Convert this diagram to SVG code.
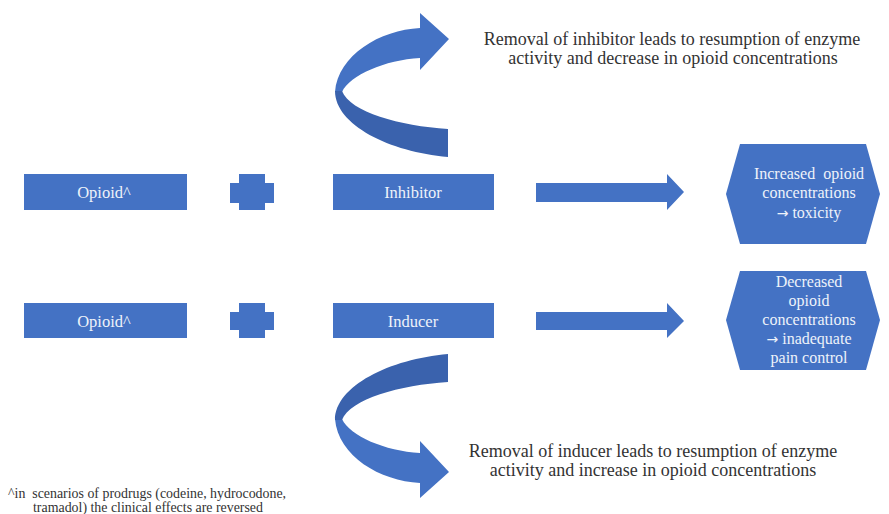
<svg xmlns="http://www.w3.org/2000/svg" width="889" height="514" viewBox="0 0 889 514">
<defs>
<style>
.blue{fill:#4472C4}
.dark{fill:#3a62ad}
text{font-family:'Liberation Serif','DejaVu Serif',serif;white-space:pre}
.lbl{fill:#eef2fa;text-anchor:middle}
.box{font-size:16.5px}
.hex{font-size:16px}
.arr{font-family:'DejaVu Sans',sans-serif;font-size:14px}
.note{fill:#333;text-anchor:middle;font-size:18px}
.foot{fill:#333;font-size:13.9px}
</style>
<g id="curl">
<path class="blue" d="M420 28 C380 30 338 55 335 92 L342 92 C350 75 385 60 420 58 L420 70 L449 39 L420 13 Z"/>
<path class="dark" d="M335 91 C335 125 390 152 448 157 L448 129 C400 126 350 112 342 91 Z"/>
</g>
</defs>
<rect width="889" height="514" fill="#fff"/>

<g id="connectors">
<use href="#curl" id="curl-top"/>
<use href="#curl" id="curl-bottom" transform="translate(0,511) scale(1,-1)"/>
<polygon id="arrow-top" class="blue" points="536,183 667,183 667,174 684,192 667,210 667,202 536,202"/>
<polygon id="arrow-bottom" class="blue" points="536,312 667,312 667,303 684,321 667,338 667,330 536,330"/>
</g>

<g id="opioid1">
<rect class="blue" x="24" y="174" width="163" height="36"/>
<text class="lbl box" x="104" y="198">Opioid^</text>
</g>
<g id="plus1">
<polygon class="blue" points="239,174 265,174 265,183 274,183 274,203 265,203 265,210 239,210 239,203 230,203 230,183 239,183"/>
</g>
<g id="inhibitor">
<rect class="blue" x="333" y="174" width="161" height="36"/>
<text class="lbl box" x="413" y="198">Inhibitor</text>
</g>
<g id="result1">
<polygon class="blue" points="740,144 866,144 880,194 866,244 740,244 726,194"/>
<text class="lbl hex" x="809" y="179">Increased  opioid</text>
<text class="lbl hex" x="809" y="198">concentrations</text>
<text class="lbl hex" x="809" y="218"><tspan class="arr">→</tspan> toxicity</text>
</g>

<g id="opioid2">
<rect class="blue" x="24" y="303" width="163" height="35"/>
<text class="lbl box" x="104" y="327">Opioid^</text>
</g>
<g id="plus2">
<polygon class="blue" points="239,303 265,303 265,312 274,312 274,330 265,330 265,338 239,338 239,330 230,330 230,312 239,312"/>
</g>
<g id="inducer">
<rect class="blue" x="333" y="303" width="161" height="35"/>
<text class="lbl box" x="413" y="327">Inducer</text>
</g>
<g id="result2">
<polygon class="blue" points="740,271 866,271 880,320 866,370 740,370 726,320"/>
<text class="lbl hex" x="809" y="287">Decreased</text>
<text class="lbl hex" x="809" y="306">opioid</text>
<text class="lbl hex" x="809" y="325">concentrations</text>
<text class="lbl hex" x="809" y="344"><tspan class="arr">→</tspan> inadequate</text>
<text class="lbl hex" x="809" y="363">pain control</text>
</g>

<g id="note-top">
<text class="note" x="672" y="45">Removal of inhibitor leads to resumption of enzyme</text>
<text class="note" x="673" y="64">activity and decrease in opioid concentrations</text>
</g>
<g id="note-bottom">
<text class="note" x="653" y="457">Removal of inducer leads to resumption of enzyme</text>
<text class="note" x="653" y="476">activity and increase in opioid concentrations</text>
</g>
<g id="footnote">
<text class="foot" x="8" y="498">^in  scenarios of prodrugs (codeine, hydrocodone,</text>
<text class="foot" x="148" y="512" text-anchor="middle">tramadol) the clinical effects are reversed</text>
</g>
</svg>
